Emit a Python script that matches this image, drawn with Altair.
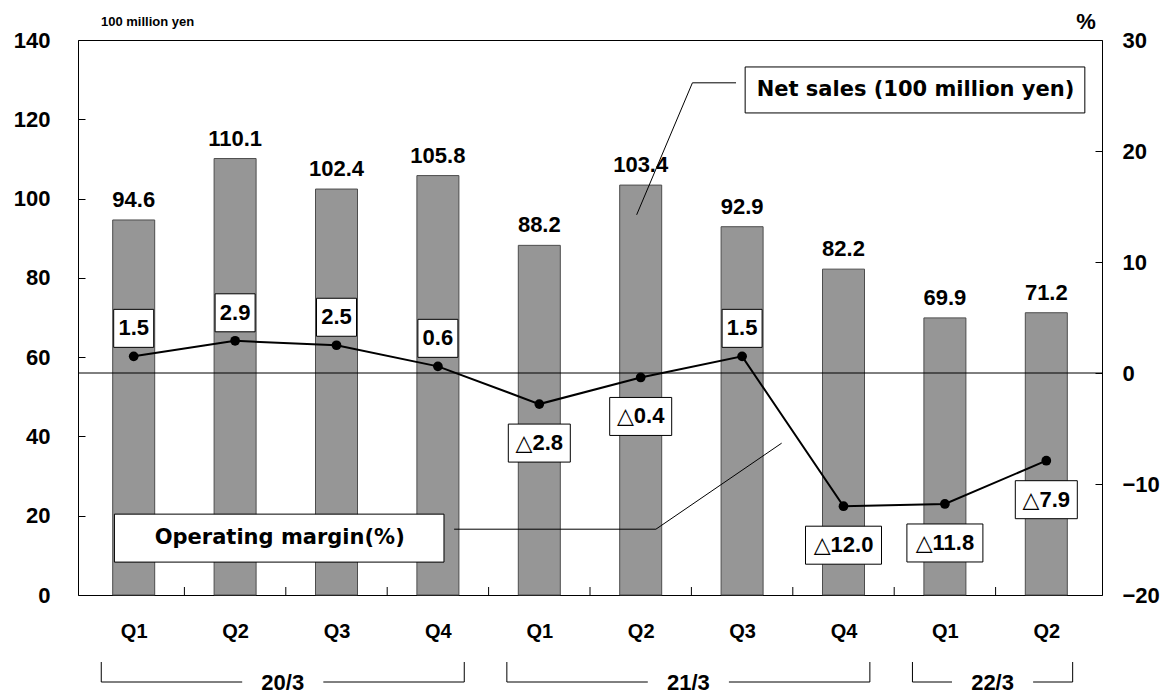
import json
import altair as alt
import pandas as pd

# ---------------- data ----------------
quarters = ["Q1", "Q2", "Q3", "Q4", "Q1", "Q2", "Q3", "Q4", "Q1", "Q2"]
net_sales = [94.6, 110.1, 102.4, 105.8, 88.2, 103.4, 92.9, 82.2, 69.9, 71.2]
op_margin = [1.5, 2.9, 2.5, 0.6, -2.8, -0.4, 1.5, -12.0, -11.8, -7.9]
fiscal_years = ["20/3", "21/3", "22/3"]
fy_first = [0, 4, 8]
fy_last = [3, 7, 9]
sales_ticks = [0, 20, 40, 60, 80, 100, 120, 140]
margin_ticks = [-20, -10, 0, 10, 20, 30]
sales_unit = "100 million yen"
margin_unit = "%"
sales_series = "Net sales (100 million yen)"
margin_series = "Operating margin(%)"

# callout geometry in data units (x = quarter index, y = sales axis)
sales_box = [6.03, 9.38, 121.6, 133.2]        # x1, x2, y1, y2
sales_box_text = [7.71, 127.4]
sales_leader = [[5.94, 129.2], [5.51, 129.2], [4.96, 95.9]]
margin_box = [-0.19, 3.06, 8.3, 20.4]
margin_box_text = [1.44, 14.4]
margin_leader = [[3.16, 16.6], [5.15, 16.6], [6.39, 38.3]]

# ---------------- layout / style ----------------
W, H = 1024, 555
FONT = "Liberation Sans, DejaVu Sans, Noto Sans CJK JP, sans-serif"
FONT2 = "DejaVu Sans, Noto Sans CJK JP, sans-serif"
n = len(quarters)

def fmt_margin(v):
    return ("△" if v < 0 else "") + f"{abs(v):.1f}"

df = pd.DataFrame({"i": list(range(n)), "q": quarters,
                   "sales": net_sales, "margin": op_margin})
df["sales_lbl"] = [f"{v:.1f}" for v in net_sales]
df["margin_lbl"] = [fmt_margin(v) for v in op_margin]

BOX_W = {3: 40, 4: 62, 5: 76}
BOX_H = 38
ABOVE, BELOW = -28, 39

def box_path(label, v):
    w = BOX_W.get(len(label), 10 + 13 * len(label))
    cy = ABOVE if v >= 0 else BELOW
    return f"M{-w/2},{cy - BOX_H/2}h{w}v{BOX_H}h{-w}Z"

df["box"] = [box_path(l, v) for l, v in zip(df["margin_lbl"], op_margin)]
df["pos"] = ["above" if v >= 0 else "below" for v in op_margin]

x_scale = alt.Scale(domain=[-0.5, n - 0.5], nice=False, zero=False)
yl_scale = alt.Scale(domain=[0, 140], nice=False, zero=False)
yr_scale = alt.Scale(domain=[-20, 30], nice=False, zero=False)

x_axis = alt.Axis(values=list(range(n)),
                  labelExpr=f"{json.dumps(quarters)}[datum.value]",
                  ticks=False, tickSize=0, domain=False, grid=False,
                  labelFontSize=20, labelFontWeight="bold", labelFont=FONT,
                  labelColor="black", labelPadding=26, title=None)
yl_axis = alt.Axis(values=sales_ticks, offset=-7, tickSize=7, domain=False,
                   grid=False, labelFontSize=22, labelFontWeight="bold",
                   labelFont=FONT, labelColor="black", tickColor="black",
                   labelPadding=28, title=None)
yr_axis = alt.Axis(values=margin_ticks, orient="right", offset=-7, tickSize=7,
                   domain=False, grid=False, labelFontSize=22,
                   labelFontWeight="bold", labelFont=FONT, labelColor="black",
                   tickColor="black", labelPadding=20, title=None)

def X(f):
    return alt.X(f"{f}:Q", scale=x_scale, axis=x_axis)

def YL(f):
    return alt.Y(f"{f}:Q", scale=yl_scale, axis=yl_axis)

def YR(f):
    return alt.Y(f"{f}:Q", scale=yr_scale, axis=yr_axis)

base = alt.Chart(df)

# ---------------- left (sales) group ----------------
bars = base.mark_bar(size=42, fill="#969696", stroke="#4d4d4d",
                     strokeWidth=1).encode(x=X("i"), y=YL("sales"))
bar_lbl = base.mark_text(baseline="alphabetic", dy=-13, fontSize=22,
                         fontWeight="bold", font=FONT, color="black").encode(
    x=X("i"), y=YL("sales"), text="sales_lbl:N")

# x ticks at category boundaries (inside)
ticks_df = pd.DataFrame({"b": [i + 0.5 for i in range(n - 1)]})
xticks = alt.Chart(ticks_df).mark_rule(color="black", strokeWidth=1).encode(
    x=X("b"), y=alt.value(H), y2=alt.value(H - 8))

# fiscal-year brackets
br_v, br_h, br_t = [], [], []
for fy, a, b in zip(fiscal_years, fy_first, fy_last):
    s, e = a - 0.32, b + 0.26
    c = (s + e) / 2
    g = 0.4
    br_v += [{"x": s}, {"x": e}]
    br_h += [{"x1": s, "x2": c - g}, {"x1": c + g, "x2": e}]
    br_t += [{"c": c, "fy": fy}]
brv = alt.Chart(pd.DataFrame(br_v)).mark_rule(color="black").encode(
    x=X("x"), y=alt.value(H + 67), y2=alt.value(H + 87))
brh = alt.Chart(pd.DataFrame(br_h)).mark_rule(color="black").encode(
    x=X("x1"), x2="x2:Q", y=alt.value(H + 87))
brt = alt.Chart(pd.DataFrame(br_t)).mark_text(
    fontSize=22, fontWeight="bold", font=FONT, baseline="middle",
    color="black").encode(x=X("c"), y=alt.value(H + 88), text="fy:N")

# callouts
def callout(box, txt_pos, leader, label):
    bdf = pd.DataFrame([{"x1": box[0], "x2": box[1], "y1": box[2], "y2": box[3]}])
    rect = alt.Chart(bdf).mark_rect(fill="white", stroke="black",
                                    strokeWidth=1).encode(
        x=X("x1"), x2="x2:Q", y=YL("y1"), y2="y2:Q")
    tdf = pd.DataFrame([{"x": txt_pos[0], "y": txt_pos[1], "t": label}])
    txt = alt.Chart(tdf).mark_text(fontSize=21, fontWeight="bold", font=FONT2,
                                   baseline="middle", color="black").encode(
        x=X("x"), y=YL("y"), text="t:N")
    ldf = pd.DataFrame([{"x": p[0], "y": p[1], "o": k} for k, p in enumerate(leader)])
    line = alt.Chart(ldf).mark_line(color="black", strokeWidth=1).encode(
        x=X("x"), y=YL("y"), order="o:Q")
    return [line, rect, txt]

units_df = pd.DataFrame([{"t": sales_unit}])
unit_l = alt.Chart(units_df).mark_text(fontSize=13, fontWeight="bold", font=FONT,
                                       align="left", baseline="middle",
                                       color="black").encode(
    x=alt.value(23), y=alt.value(-18), text="t:N")
unit_r_df = pd.DataFrame([{"t": margin_unit}])
unit_r = alt.Chart(unit_r_df).mark_text(fontSize=22, fontWeight="bold", font=FONT,
                                        align="center", baseline="middle",
                                        color="black").encode(
    x=alt.value(W - 16), y=alt.value(-18), text="t:N")

left = alt.layer(
    bars, bar_lbl, xticks, brv, brh, brt,
    *callout(sales_box, sales_box_text, sales_leader, sales_series),
    *callout(margin_box, margin_box_text, margin_leader, margin_series),
    unit_l, unit_r,
)

# ---------------- right (margin) group ----------------
zero = alt.Chart(pd.DataFrame({"z": [0]})).mark_rule(
    color="black", strokeWidth=1).encode(y=YR("z"))
mline = base.mark_line(color="black", strokeWidth=2).encode(x=X("i"), y=YR("margin"))
mpts = base.mark_circle(size=95, color="black", opacity=1).encode(
    x=X("i"), y=YR("margin"))
boxes = base.mark_point(filled=True, fill="white", stroke="black",
                        strokeWidth=1, size=4, opacity=1).encode(
    x=X("i"), y=YR("margin"), shape=alt.Shape("box:N", scale=None))
txt_a = base.transform_filter(alt.datum.pos == "above").mark_text(
    dy=ABOVE, fontSize=22, fontWeight="bold", font=FONT, baseline="middle",
    color="black").encode(x=X("i"), y=YR("margin"), text="margin_lbl:N")
txt_b = base.transform_filter(alt.datum.pos == "below").mark_text(
    dy=BELOW, fontSize=22, fontWeight="bold", font=FONT, baseline="middle",
    color="black").encode(x=X("i"), y=YR("margin"), text="margin_lbl:N")

right = alt.layer(zero, mline, mpts, boxes, txt_a, txt_b)

chart = alt.layer(left, right).resolve_scale(y="independent").properties(
    width=W, height=H,
    padding={"left": 78, "top": 40, "right": 61, "bottom": 100},
    autosize=alt.AutoSizeParams(type="none"),
    background="white",
).configure_view(stroke="black", strokeWidth=1)

chart.save("out.html", embed_options={"renderer": "svg", "actions": False})
